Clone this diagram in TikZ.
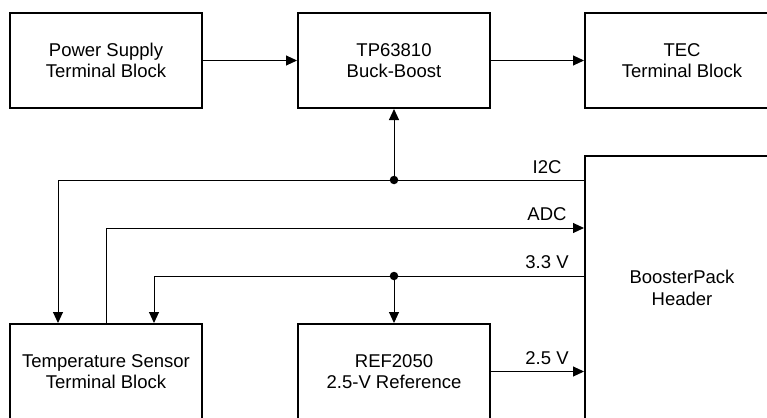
\documentclass[tikz,border=0pt]{standalone}
\usepackage{fontspec}
\setmainfont{Liberation Sans}
\usetikzlibrary{arrows.meta,calc}
\begin{document}
\begin{tikzpicture}[x=1pt,y=-1pt,
  blk/.style={draw=black,line width=2pt,minimum width=192pt,minimum height=95pt,inner sep=0pt,align=center,font=\fontsize{18.5}{21.5}\selectfont},
  wire/.style={draw=black,line width=1pt},
  arr/.style={wire,-{Triangle[length=11pt,width=10pt]}},
  lbl/.style={anchor=base,inner sep=0pt,font=\fontsize{18.5}{21.5}\selectfont},
  jdot/.style={circle,fill=black,inner sep=0pt,minimum size=8.5pt}]
\useasboundingbox (0,0) rectangle (767,417);
\node[blk] (ps) at (106,60.5) {Power Supply\\Terminal Block};
\node[blk] (tp) at (394,60.5) {TP63810\\Buck-Boost};
\node[blk,minimum width=194pt] (tec) at (682,60.5) {TEC\\Terminal Block};
\node[blk,minimum width=194pt,minimum height=264pt] (bp) at (682,288) {BoosterPack\\Header};
\node[blk] (ts) at (106,371.5) {Temperature Sensor\\Terminal Block};
\node[blk] (ref) at (394,371.5) {REF2050\\2.5-V Reference};
% points on the header edge
\coordinate (bpI) at ([yshift=-25pt]bp.north west);
\coordinate (bpA) at ([yshift=-73pt]bp.north west);
\coordinate (bpV) at ([yshift=-121pt]bp.north west);
% points on the sensor block top
\coordinate (tsI) at ([xshift=-48pt]ts.north);
\coordinate (tsV) at ([xshift=48pt]ts.north);
% junctions
\node[jdot] (jI) at (tp.south |- bpI) {};
\node[jdot] (jV) at (tp.south |- bpV) {};
% connectors
\draw[arr] (ps) -- (tp);
\draw[arr] (tp) -- (tec);
\draw[arr] (bpI) -| (tsI);
\draw[arr] (jI.center) -- (tp.south);
\draw[arr] (ts.north) |- (bpA);
\draw[arr] (bpV) -| (tsV);
\draw[arr] (jV.center) -- (ref.north);
\draw[arr] (ref.east) -- (ref.east -| bp.west);
% labels
\node[lbl] (lI) at (547,173) {I2C};
\node[lbl] (lA) at (547,220) {ADC};
\node[lbl] (lV) at (547,268) {3.3 V};
\node[lbl] (l25) at (547,364) {2.5 V};
\end{tikzpicture}
\end{document}
